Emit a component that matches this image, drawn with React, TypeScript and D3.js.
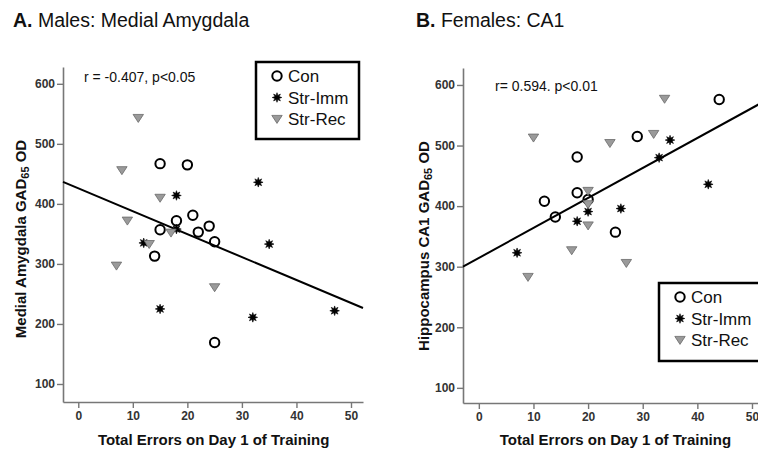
import React, { useRef, useEffect } from "react";
import * as d3 from "d3";

const width = 758;
const height = 454;

// A. Males: Medial Amygdala  [errors, GAD65 OD]
const maleCon = [[15, 467], [20, 465], [21, 381], [18, 372], [15, 357], [24, 363], [22, 353], [25, 337], [14, 313], [25, 169]];
const maleImm = [[18, 414], [33, 436], [18, 358], [12, 335], [35, 333], [15, 225], [32, 211], [47, 222]];
const maleRec = [[11, 543], [8, 456], [15, 410], [9, 372], [17, 352], [13, 333], [7, 297], [25, 261]];
const maleFit = [426, -3.82]; // intercept, slope

// B. Females: CA1
const femaleCon = [[44, 576], [29, 515], [18, 481], [18, 422], [12, 408], [20, 411], [14, 382], [25, 357]];
const femaleImm = [[35, 509], [33, 480], [42, 436], [26, 396], [20, 391], [18, 375], [7, 323]];
const femaleRec = [[34, 577], [10, 513], [32, 519], [24, 504], [20, 425], [20, 403], [20, 368], [17, 327], [9, 283], [27, 306]];
const femaleFit = [314.4, 4.95];

const xTicks = [0, 10, 20, 30, 40, 50];
const yTicks = [100, 200, 300, 400, 500, 600];
const groupNames = ["Con", "Str-Imm", "Str-Rec"];

const font = "'Liberation Sans', Arial, sans-serif";
const axisColor = "#777";

// 8-point burst for Str-Imm
const starPath = (() => {
  const pts: string[] = [];
  for (let i = 0; i < 16; i++) {
    const r = i % 2 === 0 ? 4.8 : 2.3;
    const a = (i * Math.PI) / 8 - Math.PI / 2;
    pts.push(`${(r * Math.cos(a)).toFixed(2)},${(r * Math.sin(a)).toFixed(2)}`);
  }
  return "M" + pts.join("L") + "Z";
})();
const triPath = "M-5.2,-3.6L5.2,-3.6L0,4.4Z";

const drawMarker = (g, kind, x, y) => {
  if (kind === 0) {
    g.append("circle").attr("cx", x).attr("cy", y).attr("r", 4.7)
      .attr("fill", "none").attr("stroke", "#000").attr("stroke-width", 2);
  } else if (kind === 1) {
    g.append("path").attr("d", starPath).attr("transform", `translate(${x},${y})`)
      .attr("fill", "#000").attr("stroke", "#000").attr("stroke-width", 0.6);
  } else {
    g.append("path").attr("d", triPath).attr("transform", `translate(${x},${y})`)
      .attr("fill", "#9a9a9a").attr("stroke", "#6a6a6a").attr("stroke-width", 0.8);
  }
};

const panels = [
  {
    title: "Males: Medial Amygdala", letter: "A.", titleX: 13,
    yLabel: ["Medial Amygdala GAD", "65", " OD"], yLabelX: 22, yLabelY: 239,
    stat: "r = -0.407, p<0.05", statX: 84, statY: 82,
    left: 63, right: 363, top: 67, bottom: 402,
    xDomain: [-2.8, 52.2], yDomain: [70, 628],
    series: [maleCon, maleImm, maleRec], fit: maleFit,
    legend: { x: 256, y: 62, w: 103, h: 77 },
  },
  {
    title: "Females: CA1", letter: "B.", titleX: 416,
    yLabel: ["Hippocampus CA1 GAD", "65", " OD"], yLabelX: 425, yLabelY: 246,
    stat: "r= 0.594. p<0.01", statX: 495, statY: 91,
    left: 463, right: 764, top: 68, bottom: 403,
    xDomain: [-2.9, 52.2], yDomain: [75, 628],
    series: [femaleCon, femaleImm, femaleRec], fit: femaleFit,
    legend: { x: 659, y: 283, w: 106, h: 78 },
  },
];

const App = () => {
  const ref = useRef(null);

  useEffect(() => {
    const svg = d3.select(ref.current);
    svg.selectAll("*").remove();
    svg.append("rect").attr("width", width).attr("height", height).attr("fill", "#fff");

    panels.forEach((p) => {
      const x = d3.scaleLinear().domain(p.xDomain).range([p.left, p.right]);
      const y = d3.scaleLinear().domain(p.yDomain).range([p.bottom, p.top]);
      const g = svg.append("g").style("font-family", font);

      // title
      const t = g.append("text").attr("x", p.titleX).attr("y", 27)
        .attr("font-size", 19.5).attr("fill", "#111");
      t.append("tspan").attr("font-weight", "bold").text(p.letter);
      t.append("tspan").text(" " + p.title);

      // axes
      const yAxis = g.append("g").attr("transform", `translate(${p.left},0)`)
        .call(d3.axisLeft(y).tickValues(yTicks).tickSize(6).tickSizeOuter(0).tickPadding(2));
      const xAxis = g.append("g").attr("transform", `translate(0,${p.bottom})`)
        .call(d3.axisBottom(x).tickValues(xTicks).tickSize(6).tickSizeOuter(0).tickPadding(3));
      [yAxis, xAxis].forEach((a) => {
        a.select(".domain").attr("stroke", axisColor).attr("stroke-width", 1.6);
        a.selectAll(".tick line").attr("stroke", axisColor).attr("stroke-width", 1.4);
        a.selectAll(".tick text").attr("fill", "#333").attr("font-size", 12)
          .attr("font-weight", "bold").attr("font-family", font);
      });

      // axis titles
      const yl = g.append("text")
        .attr("transform", `translate(${p.yLabelX},${p.yLabelY}) rotate(-90)`)
        .attr("text-anchor", "middle").attr("dominant-baseline", "middle")
        .attr("font-size", 15).attr("font-weight", "bold").attr("fill", "#111");
      yl.append("tspan").text(p.yLabel[0]);
      yl.append("tspan").attr("font-size", 11).attr("dy", 4).text(p.yLabel[1]);
      yl.append("tspan").attr("dy", -4).text(p.yLabel[2]);

      g.append("text").attr("x", x(25) + (p.left < 100 ? -1 : 0)).attr("y", 445)
        .attr("text-anchor", "middle").attr("font-size", 15).attr("font-weight", "bold")
        .attr("fill", "#111").text("Total Errors on Day 1 of Training");

      // stat annotation
      g.append("text").attr("x", p.statX).attr("y", p.statY)
        .attr("font-size", 14).attr("fill", "#111").text(p.stat);

      // fit line
      const [b0, b1] = p.fit;
      const line = d3.line().x((d) => x(d)).y((d) => y(b0 + b1 * d));
      g.append("path").datum(p.xDomain).attr("d", line)
        .attr("fill", "none").attr("stroke", "#000").attr("stroke-width", 2);

      // points
      p.series.forEach((s, k) => {
        s.forEach((d) => drawMarker(g, k, x(d[0]), y(d[1])));
      });

      // legend
      const L = p.legend;
      g.append("rect").attr("x", L.x).attr("y", L.y).attr("width", L.w).attr("height", L.h)
        .attr("fill", "#fff").attr("stroke", "#000").attr("stroke-width", 2.5);
      groupNames.forEach((name, k) => {
        const cy = L.y + 14 + k * 21.5;
        drawMarker(g, k, L.x + 21, cy);
        g.append("text").attr("x", L.x + 32).attr("y", cy + 6)
          .attr("font-size", 17).attr("fill", "#111").text(name);
      });
    });
  }, []);

  return (
    <svg
      ref={ref}
      width={width}
      height={height}
      style={{ position: "absolute", left: 0, top: 0, display: "block" }}
    />
  );
};

export default App;
